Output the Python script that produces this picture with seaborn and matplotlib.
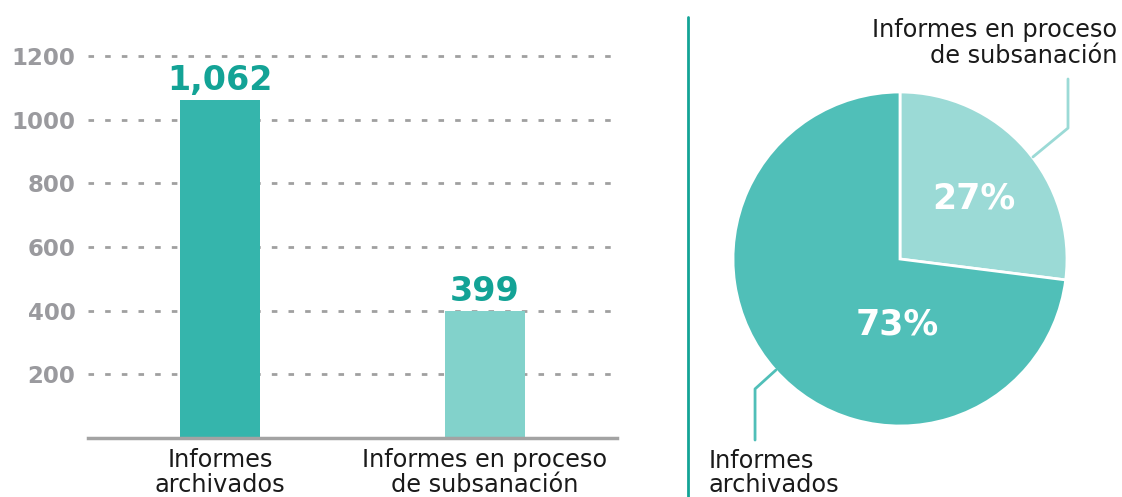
import matplotlib
matplotlib.use("Agg")
import matplotlib.pyplot as plt
import seaborn as sns
import pandas as pd

categories = ["Informes\narchivados", "Informes en proceso\nde subsanación"]
values = [1062, 399]
value_labels = ["1,062", "399"]
pie_labels = ["27%", "73%"]
pie_shares = [27, 73]
yticks = [200, 400, 600, 800, 1000, 1200]

bar_colors = ["#35b5ac", "#82d2cb"]
pie_colors = ["#9bdad6", "#50bfb8"]

sns.set_style("white")
plt.rcParams["font.family"] = ["DejaVu Sans"]

W, H = 1122, 497
fig = plt.figure(figsize=(W / 100, H / 100), dpi=100)

# ---- bar chart ----
ax = fig.add_axes([88 / W, (H - 438) / H, 529 / W, (438 - 24.2) / H])
df = pd.DataFrame({"cat": categories, "val": values})
sns.barplot(data=df, x="cat", y="val", hue="cat", palette=bar_colors,
            width=0.303, legend=False, ax=ax, saturation=1, linewidth=0)
ax.set_xlim(-0.5, 1.5)
ax.set_ylim(0, 1300)
ax.set_xlabel("")
ax.set_ylabel("")
for s in ["top", "right", "left"]:
    ax.spines[s].set_visible(False)
ax.spines["bottom"].set_color("#a3a3a3")
ax.spines["bottom"].set_linewidth(2.5)
ax.set_yticks(yticks)
ax.set_yticklabels([str(t) for t in yticks], fontsize=16.5, fontweight="bold",
                   color="#9a9a9e")
ax.tick_params(axis="y", length=0, pad=9)
ax.tick_params(axis="x", length=0, pad=7, labelsize=17.3, labelcolor="#1a1a1a")
for lab in ax.get_xticklabels():
    lab.set_linespacing(1.05)
for t in yticks:
    ax.axhline(t, color="#a0a0a0", lw=2, ls=(0, (2, 4)), zorder=0)
for i, (v, lab) in enumerate(zip(values, value_labels)):
    ax.text(i, v + 10, lab, ha="center", va="bottom", fontsize=24,
            fontweight="bold", color="#13a396")

# ---- separator ----
fig.add_artist(plt.Line2D([688 / W, 688 / W], [0, (H - 17) / H],
                          color="#13a396", lw=2))

# ---- pie chart ----
pax = fig.add_axes([733 / W, (H - 426) / H, 334 / W, 334 / H])
wedges, _ = pax.pie(pie_shares, colors=pie_colors, startangle=90,
                    counterclock=False, radius=1,
                    wedgeprops=dict(edgecolor="white", linewidth=2))
pax.set_xlim(-1, 1)
pax.set_ylim(-1, 1)
pax.axis("off")
pax.text(0.443, 0.365, pie_labels[0], ha="center", va="center", fontsize=25,
         fontweight="bold", color="white")
pax.text(-0.018, -0.395, pie_labels[1], ha="center", va="center", fontsize=25,
         fontweight="bold", color="white")

pax.plot([0.796, 1.006, 1.006], [0.611, 0.784, 1.078], color=pie_colors[0],
         lw=2, clip_on=False)
pax.plot([-0.743, -0.868, -0.868], [-0.665, -0.778, -1.084],
         color=pie_colors[1], lw=2, clip_on=False)

fig.text(1117 / W, (H - 43) / H, "Informes en proceso\nde subsanación",
         ha="right", va="center", fontsize=17.3, color="#1a1a1a",
         linespacing=1.15)
fig.text(709 / W, (H - 473) / H, "Informes\narchivados", ha="left",
         va="center", fontsize=17.3, color="#1a1a1a", linespacing=1.05)

fig.savefig("out.png", dpi=100)
